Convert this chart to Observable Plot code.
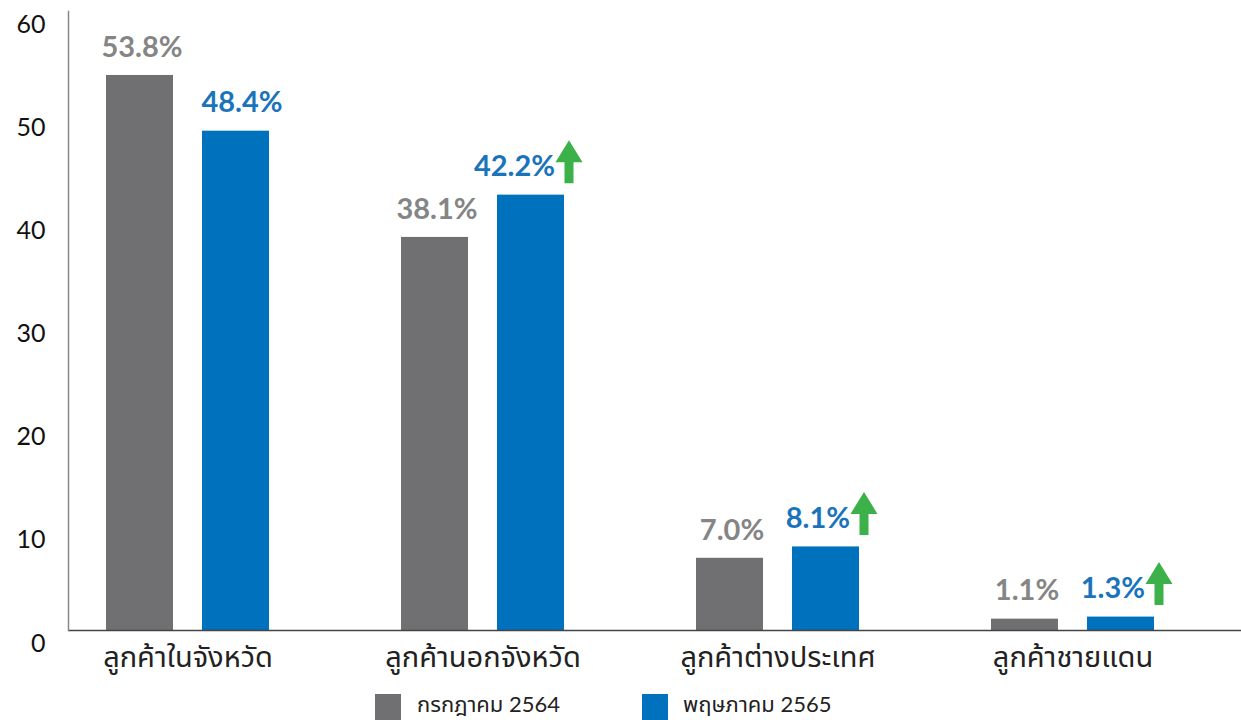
<!DOCTYPE html>
<html>
<head>
<meta charset="utf-8">
<script src="https://cdn.jsdelivr.net/npm/d3@7"></script>
<script src="https://cdn.jsdelivr.net/npm/@observablehq/plot@0.6"></script>
<style>
  html, body { margin: 0; padding: 0; background: #fff; }
  #chart { width: 1241px; }
  .legend { position: relative; width: 1241px; height: 30px; font-family: "Lato", "Noto Sans Thai", "Noto Sans", sans-serif; }
  .legend .sw { position: absolute; top: 4px; width: 26px; height: 26px; }
  .legend .lb { position: absolute; top: 2px; font-size: 22px; color: #222; line-height: 24px; }
</style>
</head>
<body>
<div id="chart"></div>
<script>
// ---- data ----
const categories = ["ลูกค้าในจังหวัด", "ลูกค้านอกจังหวัด", "ลูกค้าต่างประเทศ", "ลูกค้าชายแดน"];
const seriesNames = ["กรกฎาคม 2564", "พฤษภาคม 2565"];
const jul2564 = [53.8, 38.1, 7.0, 1.1];
const may2565 = [48.4, 42.2, 8.1, 1.3];
const yTicks = [0, 10, 20, 30, 40, 50, 60];

const gray = "#707073";
const blue = "#0071bc";
const grayText = "#858585";
const blueText = "#1a74bb";
const green = "#3cb14a";

const rows = categories.map((c, i) => ({
  category: c,
  jul: jul2564[i],
  may: may2565[i],
  up: may2565[i] > jul2564[i]
}));
const fmt = v => v.toFixed(1) + "%";

const upArrow = {
  draw(context, l) {
    const sw = 4.5, hw = 13.5, hh = 22;
    context.moveTo(-sw, 0);
    context.lineTo(-sw, -l + hh);
    context.lineTo(-hw, -l + hh);
    context.lineTo(0, -l);
    context.lineTo(hw, -l + hh);
    context.lineTo(sw, -l + hh);
    context.lineTo(sw, 0);
    context.closePath();
  }
};

const font = "Lato, 'Noto Sans Thai', 'Noto Sans', sans-serif";

const chart = Plot.plot({
  width: 1241,
  height: 690,
  marginLeft: 68,
  marginRight: 0,
  marginTop: 11,
  marginBottom: 60,
  style: { fontFamily: font, background: "white", overflow: "visible" },
  x: { type: "band", domain: categories, range: [39, 1220], padding: 0, label: null },
  y: { domain: [0, 60], label: null },
  marks: [
    Plot.barY(rows, { x: "category", y: "jul", fill: gray, insetLeft: 66, insetRight: 162 }),
    Plot.barY(rows, { x: "category", y: "may", fill: blue, insetLeft: 162, insetRight: 66 }),
    Plot.ruleY([0], { stroke: "#444", strokeWidth: 1.5 }),
    Plot.frame({ anchor: "left", stroke: "#888", strokeWidth: 1.5 }),
    Plot.axisY({ ticks: yTicks, tickSize: 0, tickPadding: 23, dy: 13, fontSize: 25, color: "#111", label: null, tickFormat: d => String(d) }),
    Plot.axisX({ tickSize: 0, tickPadding: 16, fontSize: 29, color: "#222", label: null }),
    // gray value labels
    Plot.text(rows, { x: "category", y: "jul", text: d => fmt(d.jul), dx: -46, dy: -28, lineAnchor: "middle",
      fontSize: 29, fontWeight: "bold", fill: grayText }),
    // blue value labels (no increase)
    Plot.text(rows.filter(d => !d.up), { x: "category", y: "may", text: d => fmt(d.may), dx: 54, dy: -28, lineAnchor: "middle",
      fontSize: 29, fontWeight: "bold", fill: blueText }),
    // blue value labels (increase)
    Plot.text(rows.filter(d => d.up), { x: "category", y: "may", text: d => fmt(d.may), dx: 72, dy: -28, lineAnchor: "middle",
      textAnchor: "end", fontSize: 29, fontWeight: "bold", fill: blueText }),
    // green up arrows
    Plot.vector(rows.filter(d => d.up), { x: "category", y: "may", dx: 86, dy: -12, length: 43, rotate: 0, anchor: "start",
      shape: upArrow, fill: green, stroke: "none" })
  ]
});
document.getElementById("chart").appendChild(chart);

// legend
const legend = document.createElement("div");
legend.className = "legend";
const legendPos = [[375, 417], [642, 683]];
const legendColors = [gray, blue];
seriesNames.forEach((name, i) => {
  const sw = document.createElement("div");
  sw.className = "sw";
  sw.style.left = legendPos[i][0] + "px";
  sw.style.background = legendColors[i];
  const lb = document.createElement("div");
  lb.className = "lb";
  lb.style.left = legendPos[i][1] + "px";
  lb.textContent = name;
  legend.appendChild(sw);
  legend.appendChild(lb);
});
document.body.appendChild(legend);
</script>
</body>
</html>
